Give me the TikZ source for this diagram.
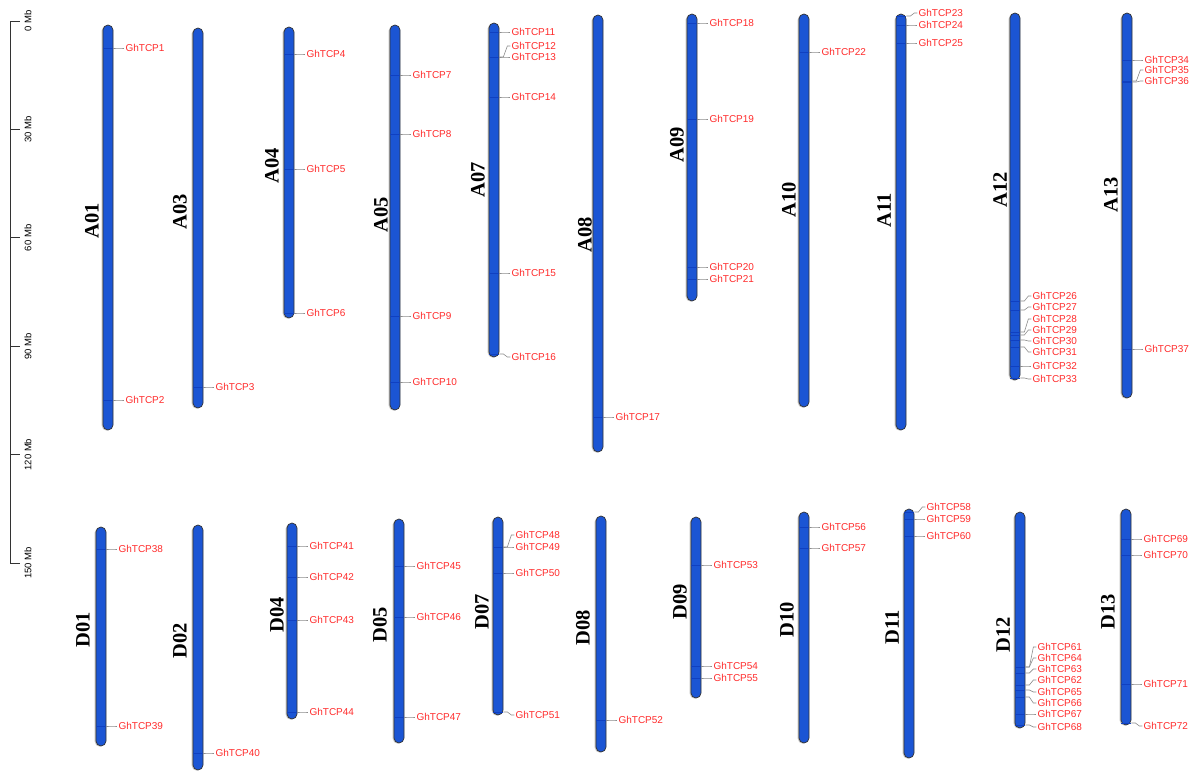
\documentclass[tikz,border=0pt]{standalone}
\usepackage{fontspec}
\setmainfont{Liberation Serif}
\newfontfamily\arialfont{Liberation Sans}
\usepackage{tikz}
\usetikzlibrary{positioning,calc,shadows}
\usepackage{xcolor}
\definecolor{chromblue}{HTML}{1B55D4}
\definecolor{genered}{HTML}{FF2B2B}
\definecolor{linkgray}{HTML}{8C8C8C}
\definecolor{markblue}{HTML}{1040C0}

\begin{document}
\begin{tikzpicture}[x=1pt, y=-1pt,
    chrom/.style={rectangle, rounded corners=5pt, minimum width=10pt, inner sep=0pt,
                  fill=chromblue, draw=black!80, line width=0.7pt,
                  drop shadow={shadow xshift=-1.3pt, shadow yshift=-0.6pt, fill=black!40, opacity=0.6}},
    chromlabel/.style={rotate=90, inner sep=0pt, font=\bfseries\fontsize{20.5}{24}\selectfont},
    gene/.style={inner sep=1pt, text=genered, font=\arialfont\fontsize{10}{12}\selectfont},
    link/.style={draw=linkgray, line width=0.6pt},
    markline/.style={draw=markblue, line width=0.4pt},
    axis/.style={draw=black!80, line width=0.8pt},
    ticklabel/.style={rotate=90, inner sep=0pt, font=\arialfont\fontsize{9.5}{11}\selectfont}
]
    \useasboundingbox (0,0) rectangle (1194,771);

    % scale bar
    \coordinate (axtop) at (10,21);
    \coordinate (axbot) at (10,563);
    \draw[axis] (axtop) -- (axbot);
    \foreach \v in {0,30,...,150}{
        \pgfmathsetmacro\ty{21+3.6133*\v}
        \coordinate (tick\v) at (10,\ty);
        \draw[axis] (tick\v) -- ++(10pt,0);
        \node[ticklabel] (ticklab\v) at (28,\ty) {\v\ Mb};
    }

    % chromosomes
    \foreach \name/\x/\ytop/\ybot/\lx/\ly in {
        A01/108/25/430/92/221, A03/198/28/408/180/212, A04/289/27/318/272/166,
        A05/395/25/410/381/215, A07/494/23/357/478/180, A08/598/15/452/585/235,
        A09/692/14/301/677/145, A10/804/14/407/789/200, A11/901/14/430/884/210,
        A12/1015/13/380/1000/190, A13/1127/13/398/1111/195,
        D01/101/527/746/83/630, D02/198/525/770/180/641, D04/292/523/719/277/615,
        D05/399/519/743/380/625, D07/498/517/715/482/612, D08/601/516/752/583/628,
        D09/696/517/698/680/602, D10/804/512/743/787/620, D11/909/509/758/892/627,
        D12/1020/512/728/1003/635, D13/1126/509/725/1108/612}{
        \pgfmathsetmacro\ymidd{(\ytop+\ybot)/2}
        \pgfmathsetmacro\chlen{\ybot-\ytop}
        \node[chrom, minimum height=\chlen pt] (\name) at (\x,\ymidd) {};
        \node[chromlabel] (\name-lab) at (\lx,\ly) {\name};
    }

    % genes: chromosome / marker position / label position / number
    \foreach \chr/\my/\ly/\g in {
        A01/48/48/1, A01/400/400/2, A03/387/387/3, A04/54/54/4, A04/169/169/5,
        A04/313/313/6, A05/75/75/7, A05/134/134/8, A05/316/316/9, A05/382/382/10,
        A07/32/32/11, A07/57/46/12, A07/57/57/13, A07/97/97/14, A07/273/273/15,
        A07/354/357/16, A08/417/417/17, A09/23/23/18, A09/119/119/19,
        A09/267/267/20, A09/279/279/21, A10/52/52/22, A11/16/13/23, A11/25/25/24,
        A11/43/43/25, A12/301/296/26, A12/310/307/27, A12/332/319/28,
        A12/335/330/29, A12/340/341/30, A12/347/352/31, A12/366/366/32,
        A12/378/379/33, A13/60/60/34, A13/81/70/35, A13/82/81/36, A13/349/349/37,
        D01/549/549/38, D01/726/726/39, D02/753/753/40, D04/546/546/41,
        D04/577/577/42, D04/620/620/43, D04/712/712/44, D05/566/566/45,
        D05/617/617/46, D05/717/717/47, D07/547/535/48, D07/547/547/49,
        D07/573/573/50, D07/712/715/51, D08/720/720/52, D09/565/565/53,
        D09/666/666/54, D09/678/678/55, D10/527/527/56, D10/548/548/57,
        D11/512/507/58, D11/519/519/59, D11/536/536/60, D12/667/647/61,
        D12/667/658/64, D12/673/669/63, D12/685/680/62, D12/690/692/65,
        D12/697/703/66, D12/714/714/67, D12/725/727/68, D13/539/539/69,
        D13/555/555/70, D13/684/684/71, D13/723/726/72}{
        \draw[markline] ([xshift=0.6pt]\chr.west |- 0,\my) -- ([xshift=-0.6pt]\chr.east |- 0,\my);
        \node[gene, anchor=west] (g\g) at ([xshift=11pt]\chr.east |- 0,\ly) {GhTCP\g};
        \draw[link] (\chr.east |- 0,\my) -- ++(4pt,0) -- ([xshift=-3pt]g\g.west) -- (g\g.west);
    }
\end{tikzpicture}
\end{document}
